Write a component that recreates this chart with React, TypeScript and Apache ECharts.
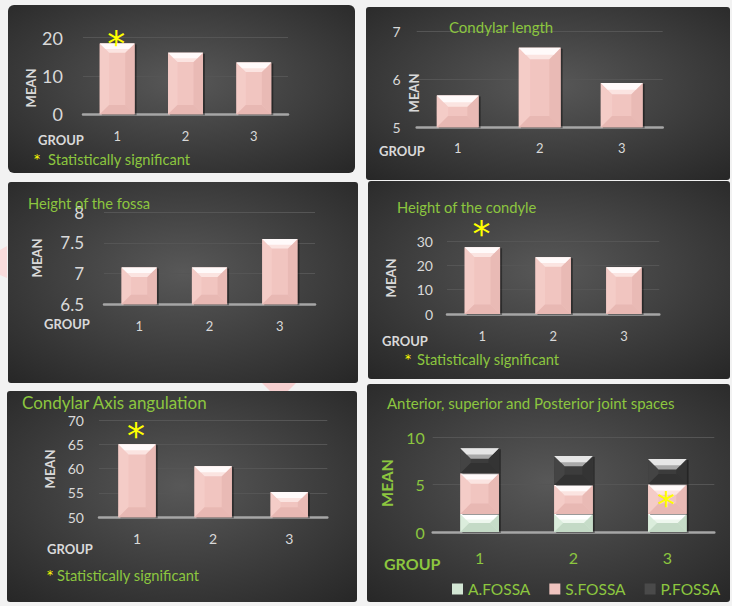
import React, { useEffect, useRef } from 'react';
import * as echarts from 'echarts';

// ---------- data ----------
const groups = ['1', '2', '3'];

const panel1Mean = [18.5, 16.1, 13.5];
const panel1Axis = [0, 20, 10];
const panel1Sig = [1, 0, 0];

const condylarLength = [5.66, 6.65, 5.92];
const condylarLengthAxis = [5, 7, 1];
const condylarLengthSig = [0, 0, 0];

const fossaHeight = [7.1, 7.1, 7.56];
const fossaHeightAxis = [6.5, 8, 0.5];
const fossaHeightSig = [0, 0, 0];

const condyleHeight = [27.4, 23.3, 19.2];
const condyleHeightAxis = [0, 30, 10];
const condyleHeightSig = [1, 0, 0];

const axisAngulation = [65.0, 60.5, 55.2];
const axisAngulationAxis = [50, 70, 5];
const axisAngulationSig = [1, 0, 0];

const jointSeriesNames = ['A.FOSSA', 'S.FOSSA', 'P.FOSSA'];
const aFossa = [1.9, 1.9, 1.9];
const sFossa = [4.3, 3.06, 3.14];
const pFossa = [2.64, 3.07, 2.67];
const jointAxis = [0, 10, 5];
const sFossaSig = [0, 0, 1];

// ---------- styles ----------
const GREEN = '#8cc63f';
const LIGHT = '#d9d9d9';
const FONT = 'Lato, "Open Sans", sans-serif';

const PINK = { face: '#f1c5c0', top: '#fffafa', topInner: '#fbe4e1', side: '#f4ccc7', sideR: '#e9bab5', bottom: '#e8b8b3', legend: '#f0c4bf' };
const MINT = { face: '#d4e8d6', top: '#ffffff', topInner: '#eef7ee', side: '#dbeddc', sideR: '#c6dcc8', bottom: '#c4dac6', legend: '#d3e6d4' };
const DARK = { face: '#3c3c3c', top: '#e6e6e6', topInner: '#a9a9a9', side: '#444444', sideR: '#343434', bottom: '#323232', legend: '#4a4a4a' };

function makeRender(pal: any, ratio: number, starOff: number | null) {
  return (params: any, api: any) => {
    const ci = api.value(0);
    const v = api.value(1);
    const b0 = api.value(2);
    const flag = api.value(3);
    const pt = api.coord([ci, v]);
    const pb = api.coord([ci, b0]);
    const bw = api.size([1, 0])[0] * ratio;
    const l = pt[0] - bw / 2;
    const r = pt[0] + bw / 2;
    const t = pt[1];
    const b = pb[1];
    const h = b - t;
    const d = Math.min(bw * 0.27, h / 2);
    const children: any[] = [
      { type: 'rect', shape: { x: l + 2, y: t + 1, width: bw, height: h }, style: { fill: 'rgba(0,0,0,0.4)' } },
      { type: 'rect', shape: { x: l, y: t, width: bw, height: h }, style: { fill: pal.face } },
      { type: 'polygon', shape: { points: [[l, t], [l + d, t + d], [l + d, b - d], [l, b]] }, style: { fill: pal.side } },
      { type: 'polygon', shape: { points: [[r, t], [r - d, t + d], [r - d, b - d], [r, b]] }, style: { fill: pal.sideR } },
      { type: 'polygon', shape: { points: [[l, b], [r, b], [r - d, b - d], [l + d, b - d]] }, style: { fill: pal.bottom } },
      { type: 'polygon', shape: { points: [[l, t], [r, t], [r - d, t + d], [l + d, t + d]] }, style: { fill: pal.topInner } },
      { type: 'polygon', shape: { points: [[l, t], [r, t], [r - d * 0.6, t + d * 0.6], [l + d * 0.6, t + d * 0.6]] }, style: { fill: pal.top } },
    ];
    if (flag) {
      const cy = starOff === null ? (t + b) / 2 : t - starOff;
      children.push({
        type: 'text', x: pt[0] - 1, y: cy + 5,
        style: { text: '*', fill: '#ffff00', fontSize: 36, fontFamily: '"DejaVu Sans", sans-serif', align: 'center', verticalAlign: 'middle' },
      });
    }
    return { type: 'group', children };
  };
}

const simplePanels = [
  { grid: [83, 37.7, 205, 76.6], axis: panel1Axis, values: panel1Mean, sig: panel1Sig, ratio: 0.51, starOff: 5, yFont: 18, yMargin: 20, xFont: 13, xMargin: 15 },
  { grid: [416.7, 31, 246, 96.3], axis: condylarLengthAxis, values: condylarLength, sig: condylarLengthSig, ratio: 0.51, starOff: 5, yFont: 14, yMargin: 16, xFont: 13, xMargin: 14 },
  { grid: [104, 212, 211, 92.3], axis: fossaHeightAxis, values: fossaHeight, sig: fossaHeightSig, ratio: 0.5, starOff: 5, yFont: 17, yMargin: 20, xFont: 13, xMargin: 15 },
  { grid: [447, 241, 212.3, 73], axis: condyleHeightAxis, values: condyleHeight, sig: condyleHeightSig, ratio: 0.5, starOff: 19, yFont: 14, yMargin: 14, xFont: 13, xMargin: 15 },
  { grid: [99, 420, 228.3, 97.3], axis: axisAngulationAxis, values: axisAngulation, sig: axisAngulationSig, ratio: 0.49, starOff: 14, yFont: 14, yMargin: 15, xFont: 14, xMargin: 14 },
];

const jointPanel = { grid: [432.7, 437.3, 281.6, 94.7], yFont: 16, yMargin: 8, xFont: 16, xMargin: 17, ratio: 0.41 };

function buildOption() {
  const grid: any[] = [];
  const xAxis: any[] = [];
  const yAxis: any[] = [];
  const series: any[] = [];

  const axisPair = (i: number, g: number[], axis: number[], color: string, yFont: number, yMargin: number, xFont: number, xMargin: number) => {
    grid.push({ left: g[0], top: g[1], width: g[2], height: g[3] });
    xAxis.push({
      type: 'category', gridIndex: i, data: groups,
      axisLine: { show: true, lineStyle: { color: '#a6a6a6', width: 2.5 } },
      axisTick: { show: false },
      axisLabel: { color, fontSize: xFont, margin: xMargin, fontFamily: FONT },
      splitLine: { show: false },
    });
    yAxis.push({
      type: 'value', gridIndex: i, min: axis[0], max: axis[1], interval: axis[2],
      axisLine: { show: false }, axisTick: { show: false },
      axisLabel: { color, fontSize: yFont, margin: yMargin, fontFamily: FONT },
      splitLine: { show: true, lineStyle: { color: '#555555', width: 1.2 } },
    });
  };

  simplePanels.forEach((p, i) => {
    axisPair(i, p.grid, p.axis, LIGHT, p.yFont, p.yMargin, p.xFont, p.xMargin);
    series.push({
      type: 'custom', name: 'panel' + (i + 1), xAxisIndex: i, yAxisIndex: i,
      renderItem: makeRender(PINK, p.ratio, p.starOff),
      encode: { x: 0, y: 1 },
      itemStyle: { color: PINK.legend },
      data: p.values.map((v, k) => [k, v, p.axis[0], p.sig[k]]),
      silent: true,
    });
  });

  const ji = simplePanels.length;
  axisPair(ji, jointPanel.grid, jointAxis, GREEN, jointPanel.yFont, jointPanel.yMargin, jointPanel.xFont, jointPanel.xMargin);
  const stacks = [aFossa, sFossa, pFossa];
  const pals = [MINT, PINK, DARK];
  const sigs = [[0, 0, 0], sFossaSig, [0, 0, 0]];
  stacks.forEach((arr, si) => {
    series.push({
      type: 'custom', name: jointSeriesNames[si], xAxisIndex: ji, yAxisIndex: ji,
      renderItem: makeRender(pals[si], jointPanel.ratio, null),
      encode: { x: 0, y: 1 },
      itemStyle: { color: pals[si].legend },
      data: arr.map((v, k) => {
        let base = 0;
        for (let q = 0; q < si; q++) base += stacks[q][k];
        return [k, base + v, base, sigs[si][k]];
      }),
      silent: true,
    });
  });

  const bgFill = () => new echarts.graphic.RadialGradient(0.5, 0.45, 0.75, [
    { offset: 0, color: '#585858' },
    { offset: 1, color: '#262626' },
  ]);
  const panelRects = [
    [8, 5, 347, 168, 6],
    [366, 7, 364, 173, 3],
    [8, 182, 350, 201, 3],
    [368, 181, 362, 198, 3],
    [7, 391, 350, 211, 3],
    [367, 384, 363, 218, 3],
  ];
  const graphic: any[] = [
    { type: 'polygon', z: -30, shape: { points: [[0, 250], [7, 246], [7, 278], [0, 275]] }, style: { fill: '#f9dcdc' } },
    { type: 'polygon', z: -30, shape: { points: [[262, 383], [296, 383], [288, 391], [270, 391]] }, style: { fill: '#f6d0d0' } },
  ];
  panelRects.forEach((r) => {
    graphic.push({ type: 'rect', z: -20, shape: { x: r[0], y: r[1], width: r[2], height: r[3], r: r[4] }, style: { fill: bgFill() } });
  });

  const txt = (text: string, x: number, y: number, size: number, color: string, opts: any = {}) => ({
    type: 'text', z: 20, x, y, rotation: opts.rot || 0,
    style: { text, fill: color, fontSize: size, fontWeight: opts.bold ? 'bold' : 'normal', fontFamily: opts.family || FONT, align: opts.align || 'left', verticalAlign: 'middle' },
  });
  const R = Math.PI / 2;
  // titles
  graphic.push(txt('Condylar length', 449, 27, 15, GREEN));
  graphic.push(txt('Height of the fossa', 28, 203, 14.7, GREEN));
  graphic.push(txt('Height of the condyle', 397, 207, 14.7, GREEN));
  graphic.push(txt('Condylar Axis angulation', 22, 402, 17, GREEN));
  graphic.push(txt('Anterior, superior and Posterior joint spaces', 387, 403, 15, GREEN));
  // axis names
  const means = [[31, 88], [414, 93], [37, 258], [391, 278], [50, 469]];
  means.forEach((m) => graphic.push(txt('MEAN', m[0], m[1], 13, LIGHT, { bold: true, rot: R, align: 'center' })));
  graphic.push(txt('MEAN', 386, 483, 16, GREEN, { bold: true, rot: R, align: 'center' }));
  const groupsPos = [[38, 140], [379, 151], [44, 324], [382, 341], [47, 549]];
  groupsPos.forEach((g) => graphic.push(txt('GROUP', g[0], g[1], 13, LIGHT, { bold: true })));
  graphic.push(txt('GROUP', 384, 563, 16, GREEN, { bold: true }));
  // significance notes
  const notes = [[37, 48, 159], [408, 417, 359], [50, 57, 575]];
  notes.forEach((n) => {
    graphic.push(txt('*', n[0], n[2], 12, '#ffff00', { align: 'center', family: '"DejaVu Sans", sans-serif' }));
    graphic.push(txt('Statistically significant', n[1], n[2], 14.7, GREEN));
  });

  return {
    animation: false,
    backgroundColor: '#f2f2f2',
    grid, xAxis, yAxis, series, graphic,
    legend: {
      data: jointSeriesNames,
      left: 452, top: 581, padding: 0,
      icon: 'rect', itemWidth: 11, itemHeight: 11, itemGap: 19,
      textStyle: { color: GREEN, fontSize: 15.5, fontFamily: FONT },
      selectedMode: false,
    },
  };
}

export default function App() {
  const ref = useRef<HTMLDivElement>(null);
  useEffect(() => {
    if (!ref.current) return;
    const chart = echarts.init(ref.current, undefined, { renderer: 'svg' });
    chart.setOption(buildOption() as any);
    return () => chart.dispose();
  }, []);
  return <div ref={ref} style={{ position: 'absolute', left: 0, top: 0, width: 732, height: 606 }} />;
}
